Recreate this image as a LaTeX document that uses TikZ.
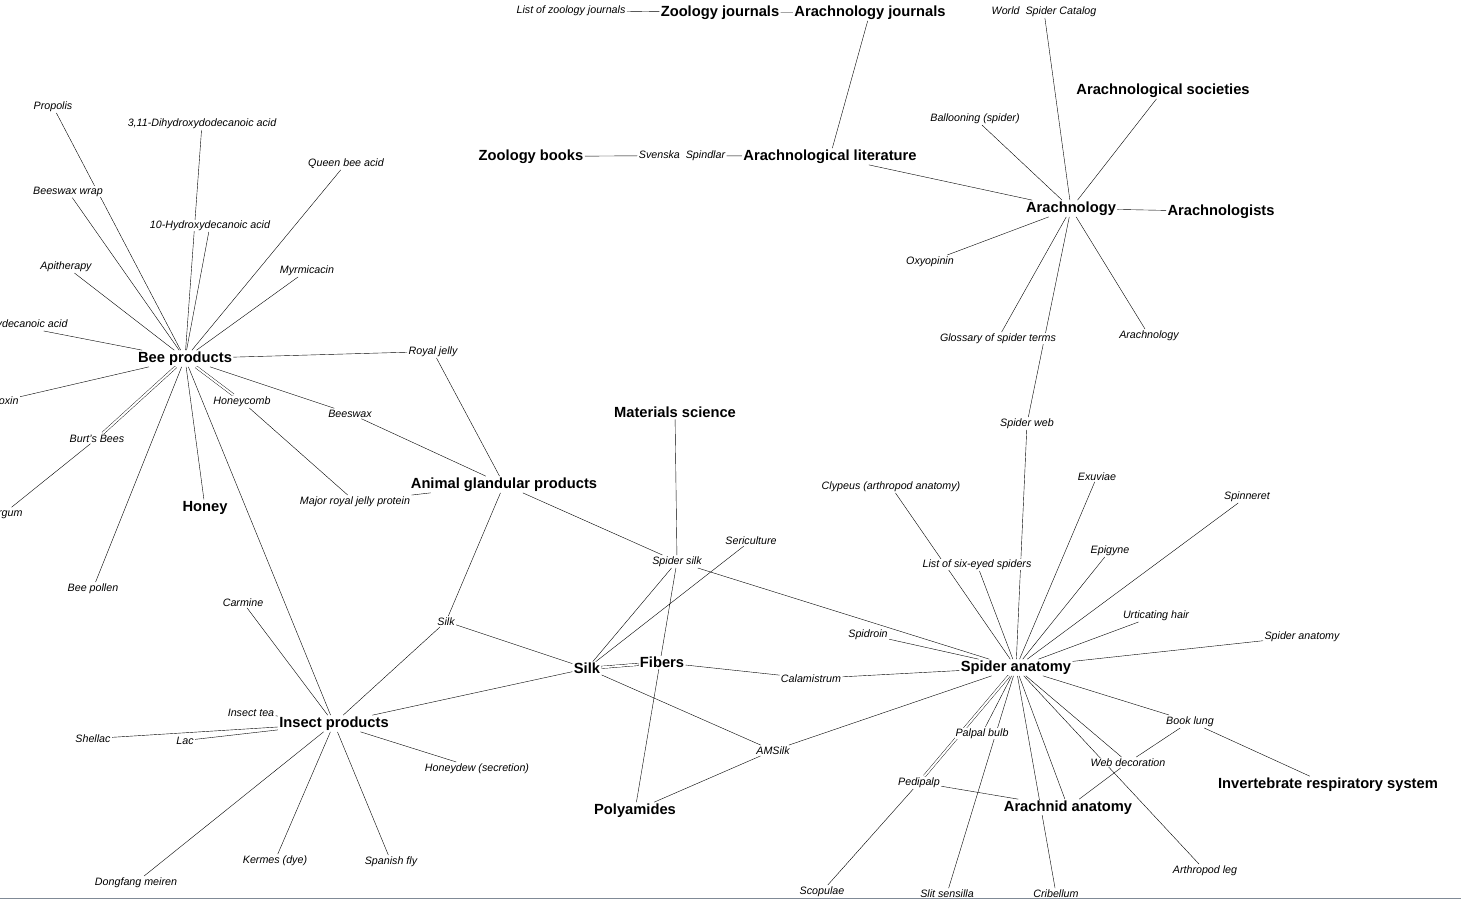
\documentclass[tikz,border=0pt]{standalone}
\usepackage{fontspec}
\setmainfont{Liberation Sans}
\usetikzlibrary{backgrounds}
\definecolor{frameline}{RGB}{128,138,150}
\begin{document}
\begin{tikzpicture}[
  x=1pt, y=-1pt,
  line width=1pt,
  topic/.style={fill=white, inner sep=1pt, yshift=-1.5pt, font=\fontsize{14.7}{16}\selectfont\bfseries},
  page/.style={fill=white, inner sep=1pt, yshift=-1.5pt, font=\fontsize{10.7}{12}\selectfont\itshape},
  link/.style={draw=black},
  twin/.style={draw=black, double, double distance=2pt}
]
\useasboundingbox (0,0) rectangle (1461,899);
\clip (0,0) rectangle (1461,899);

\node[page] (zjlist) at (571,9) {List of zoology journals};
\node[topic] (zooljour) at (720,11) {Zoology journals};
\node[topic] (arachjour) at (870,11) {Arachnology journals};
\node[topic] (zoolbook) at (531,155) {Zoology books};
\node[page] (svenska) at (682,154) {Svenska\ \ Spindlar};
\node[topic] (arachlit) at (830,155) {Arachnological literature};
\node[page] (wsc) at (1044,10) {World\ \ Spider Catalog};
\node[topic] (arachsoc) at (1163,89) {Arachnological societies};
\node[page] (balloon) at (975,117) {Ballooning (spider)};
\node[topic] (arachnology) at (1071,207) {Arachnology};
\node[topic] (arachnologists) at (1221,210) {Arachnologists};
\node[page] (oxyopinin) at (930,260) {Oxyopinin};
\node[page] (glossary) at (998,337) {Glossary of spider terms};
\node[page] (arachpage) at (1149,334) {Arachnology};
\node[page] (spiderweb) at (1027,422) {Spider web};

\node[page] (propolis) at (53,105) {Propolis};
\node[page] (dihydroxy) at (202,122) {3,11-Dihydroxydodecanoic acid};
\node[page] (queenacid) at (346,162) {Queen bee acid};
\node[page] (wrap) at (68,190) {Beeswax wrap};
\node[page] (hda) at (210,224) {10-Hydroxydecanoic acid};
\node[page] (apitherapy) at (66,265) {Apitherapy};
\node[page] (myrmicacin) at (307,269) {Myrmicacin};
\node[page, anchor=east] (hydroxy) at (69,323) {3-Hydroxydecanoic acid};
\node[page, anchor=east] (apitoxin) at (20,400) {Apitoxin};
\node[page, anchor=east] (bergum) at (24,512) {Bergum};
\node[topic] (bee) at (185,357) {Bee products};
\node[page] (royaljelly) at (433,350) {Royal jelly};
\node[page] (burts) at (97,437) {Burt's Bees};
\node[page] (honeycomb) at (242,400) {Honeycomb};
\node[page] (beeswax) at (350,412) {Beeswax};
\node[topic] (honey) at (205,506) {Honey};
\node[page] (mrjp) at (355,500) {Major royal jelly protein};
\node[topic] (animal) at (504,483) {Animal glandular products};
\node[page] (beepollen) at (93,587) {Bee pollen};

\node[topic] (matsci) at (675,411) {Materials science};
\node[page] (sericulture) at (751,539) {Sericulture};
\node[page] (spidersilk) at (677,560) {Spider silk};
\node[page] (carmine) at (243,601) {Carmine};
\node[page] (silkpage) at (446,620) {Silk};
\node[topic] (silk) at (587,667) {Silk};
\node[topic] (fibers) at (662,661) {Fibers};
\node[page] (calamistrum) at (811,677) {Calamistrum};
\node[page] (insecttea) at (251,711) {Insect tea};
\node[topic] (insect) at (334,722) {Insect products};
\node[page] (shellac) at (93,737) {Shellac};
\node[page] (lac) at (185,739) {Lac};
\node[page] (honeydew) at (477,767) {Honeydew (secretion)};
\node[page] (amsilk) at (773,749) {AMSilk};
\node[topic] (polyamides) at (635,809) {Polyamides};
\node[page] (kermes) at (275,859) {Kermes (dye)};
\node[page] (spanishfly) at (391,860) {Spanish fly};
\node[page] (dongfang) at (136,881) {Dongfang meiren};

\node[page] (clypeus) at (891,485) {Clypeus (arthropod anatomy)};
\node[page] (exuviae) at (1097,475) {Exuviae};
\node[page] (spinneret) at (1247,495) {Spinneret};
\node[page] (epigyne) at (1110,549) {Epigyne};
\node[page] (sixeyed) at (977,563) {List of six-eyed spiders};
\node[page] (urticating) at (1156,614) {Urticating hair};
\node[page] (spidroin) at (868,633) {Spidroin};
\node[page] (anatpage) at (1302,635) {Spider anatomy};
\node[topic] (anatomy) at (1016,666) {Spider anatomy};
\node[page] (palpal) at (982,732) {Palpal bulb};
\node[page] (booklung) at (1190,720) {Book lung};
\node[page] (webdeco) at (1128,761) {Web decoration};
\node[page] (pedipalp) at (919,781) {Pedipalp};
\node[topic] (invresp) at (1328,783) {Invertebrate respiratory system};
\node[topic] (arachnid) at (1068,806) {Arachnid anatomy};
\node[page] (arthleg) at (1205,869) {Arthropod leg};
\node[page] (scopulae) at (822,890) {Scopulae};
\node[page] (slit) at (947,892) {Slit sensilla};
\node[page] (cribellum) at (1056,892) {Cribellum};

\begin{scope}[on background layer]
\draw[link] (zjlist) -- (zooljour) (zooljour) -- (arachjour) (arachjour) -- (arachlit)
  (zoolbook) -- (svenska) (svenska) -- (arachlit) (arachlit) -- (arachnology);
\draw[link] (arachnology) -- (wsc) (arachnology) -- (arachsoc) (arachnology) -- (balloon)
  (arachnology) -- (arachnologists) (arachnology) -- (oxyopinin) (arachnology) -- (glossary)
  (arachnology) -- (arachpage) (arachnology) -- (spiderweb) (spiderweb) -- (anatomy);

\draw[link] (bee) -- (propolis) (bee) -- (dihydroxy) (bee) -- (queenacid) (bee) -- (wrap)
  (bee) -- (hda) (bee) -- (apitherapy) (bee) -- (myrmicacin) (bee) -- (hydroxy)
  (bee) -- (apitoxin) (bee) -- (beeswax) (bee) -- (royaljelly) (bee) -- (honey)
  (bee) -- (beepollen) (bee) -- (insect);
\draw[twin] (bee) -- (burts) (bee) -- (honeycomb);
\draw[link] (burts) -- (bergum) (honeycomb) -- (mrjp) (mrjp) -- (animal)
  (beeswax) -- (animal) (royaljelly) -- (animal) (animal) -- (silkpage) (animal) -- (spidersilk);

\draw[link] (insect) -- (carmine) (insect) -- (silkpage) (insect) -- (silk)
  (insect) -- (insecttea) (insect) -- (shellac) (insect) -- (lac) (insect) -- (honeydew)
  (insect) -- (kermes) (insect) -- (spanishfly) (insect) -- (dongfang);

\draw[link] (silkpage) -- (silk) (silk) -- (spidersilk) (silk) -- (sericulture)
  (silk) -- (amsilk) (spidersilk) -- (matsci) (spidersilk) -- (polyamides)
  (spidersilk) -- (anatomy) (fibers) -- (calamistrum) (calamistrum) -- (anatomy)
  (polyamides) -- (amsilk) (amsilk) -- (anatomy);
\draw[twin] (silk) -- (fibers);

\draw[link] (anatomy) -- (spidroin) (anatomy) -- (clypeus) (anatomy) -- (sixeyed)
  (anatomy) -- (exuviae) (anatomy) -- (epigyne) (anatomy) -- (spinneret)
  (anatomy) -- (urticating) (anatomy) -- (anatpage) (anatomy) -- (booklung)
  (anatomy) -- (webdeco) (anatomy) -- (arthleg) (anatomy) -- (arachnid)
  (anatomy) -- (cribellum) (anatomy) -- (slit) (anatomy) -- (palpal);
\draw[twin] (anatomy) -- (pedipalp);
\draw[link] (booklung) -- (invresp) (booklung) -- (webdeco) (webdeco) -- (arachnid)
  (pedipalp) -- (arachnid) (pedipalp) -- (scopulae);
\end{scope}

\draw[frameline, line width=1.6pt] (0,898.4) -- (1461,898.4);
\end{tikzpicture}
\end{document}
